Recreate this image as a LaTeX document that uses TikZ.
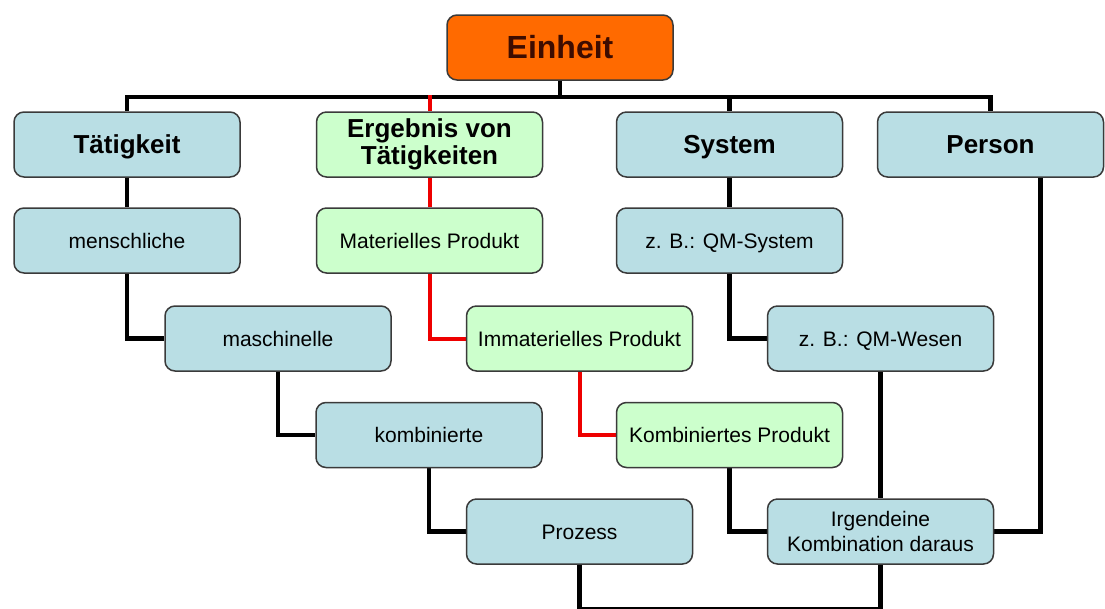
\documentclass[tikz,border=0pt]{standalone}
\usepackage{fontspec}
\setmainfont{Liberation Sans}
\usetikzlibrary{backgrounds}

\definecolor{boxblue}{HTML}{B9DEE4}
\definecolor{boxgreen}{HTML}{CCFFCC}
\definecolor{rootorange}{HTML}{FF6A00}
\definecolor{edgegray}{HTML}{3A3A3A}
\definecolor{roottext}{HTML}{3D0C00}
\definecolor{pathred}{HTML}{EE0000}

\begin{document}
\begin{tikzpicture}[x=1pt,y=-1pt,
  unit/.style={draw=edgegray, line width=1.5pt, rounded corners=10pt,
    minimum width=226pt, minimum height=65pt, align=center, inner sep=2pt,
    font=\fontsize{21}{25}\selectfont},
  oneline/.style={text height=18pt, text depth=3pt},
  bluebox/.style={unit, fill=boxblue},
  greenbox/.style={unit, fill=boxgreen},
  headline/.style={font=\bfseries\fontsize{26}{27}\selectfont},
  headone/.style={headline, text height=22pt, text depth=3.3pt},
  rootbox/.style={unit, fill=rootorange, text=roottext,
    font=\bfseries\fontsize{32}{34}\selectfont},
  link/.style={line width=4.5pt, line join=miter, draw=black},
  redlink/.style={line width=4pt, line join=miter, draw=pathred}
]
\useasboundingbox (0,0) rectangle (1105,608);

% root
\node[rootbox] (ein) at (560,47.5) {Einheit};

% first level
\node[bluebox, headone]   (tat) at (127,144.5)   {Tätigkeit};
\node[greenbox, headline] (erg) at (429.5,144.5) {Ergebnis von\\Tätigkeiten};
\node[bluebox, headone]   (sys) at (729.5,144.5) {System};
\node[bluebox, headone]   (per) at (990.5,144.5) {Person};

% second level
\node[bluebox, oneline]  (men) at (127,240.5)   {menschliche};
\node[greenbox, oneline] (mat) at (429.5,240.5) {Materielles Produkt};
\node[bluebox, oneline]  (qms) at (729.5,240.5) {z. B.: QM-System};

% third level
\node[bluebox, oneline]  (mas) at (278,338.5)   {maschinelle};
\node[greenbox, oneline] (imm) at (579.5,338.5) {Immaterielles Produkt};
\node[bluebox, oneline]  (qmw) at (880.5,338.5) {z. B.: QM-Wesen};

% fourth level
\node[bluebox, oneline]  (kom) at (429,435)     {kombinierte};
\node[greenbox, oneline] (kpr) at (729.5,435)   {Kombiniertes Produkt};

% fifth level
\node[bluebox, oneline]  (pro) at (579.5,531.5) {Prozess};
\node[bluebox]           (irg) at (880.5,531.5) {Irgendeine\\Kombination daraus};

\coordinate (bus) at (0,97);
\coordinate (base) at (0,609);

\begin{scope}[on background layer]
  % bus below the root
  \draw[link] (ein.south) -- (ein.south |- bus);
  \draw[link] (tat.north) -- (tat.north |- bus) -- (per.north |- bus) -- (per.north);
  \draw[link] (sys.north |- bus) -- (sys.north);

  % activity chain
  \draw[link] (tat.south) -- (men.north);
  \draw[link] (men.south) |- (mas.west);
  \draw[link] (mas.south) |- (kom.west);
  \draw[link] (kom.south) |- (pro.west);

  % result chain
  \draw[redlink] ([yshift=2pt]erg.north |- bus) -- (erg.north);
  \draw[redlink] (erg.south) -- (mat.north);
  \draw[redlink] (mat.south) |- (imm.west);
  \draw[redlink] (imm.south) |- (kpr.west);
  \draw[link] (kpr.south) |- (irg.west);

  % system chain
  \draw[link] (sys.south) -- (qms.north);
  \draw[link] (qms.south) |- (qmw.west);
  \draw[link] (qmw.south) -- (irg.north);

  % person
  \draw[link] ([xshift=50pt]per.south) |- (irg.east);

  % closing line at the bottom
  \draw[link] (pro.south) -- (pro.south |- base) -- (irg.south |- base) -- (irg.south);
\end{scope}
\end{tikzpicture}
\end{document}
